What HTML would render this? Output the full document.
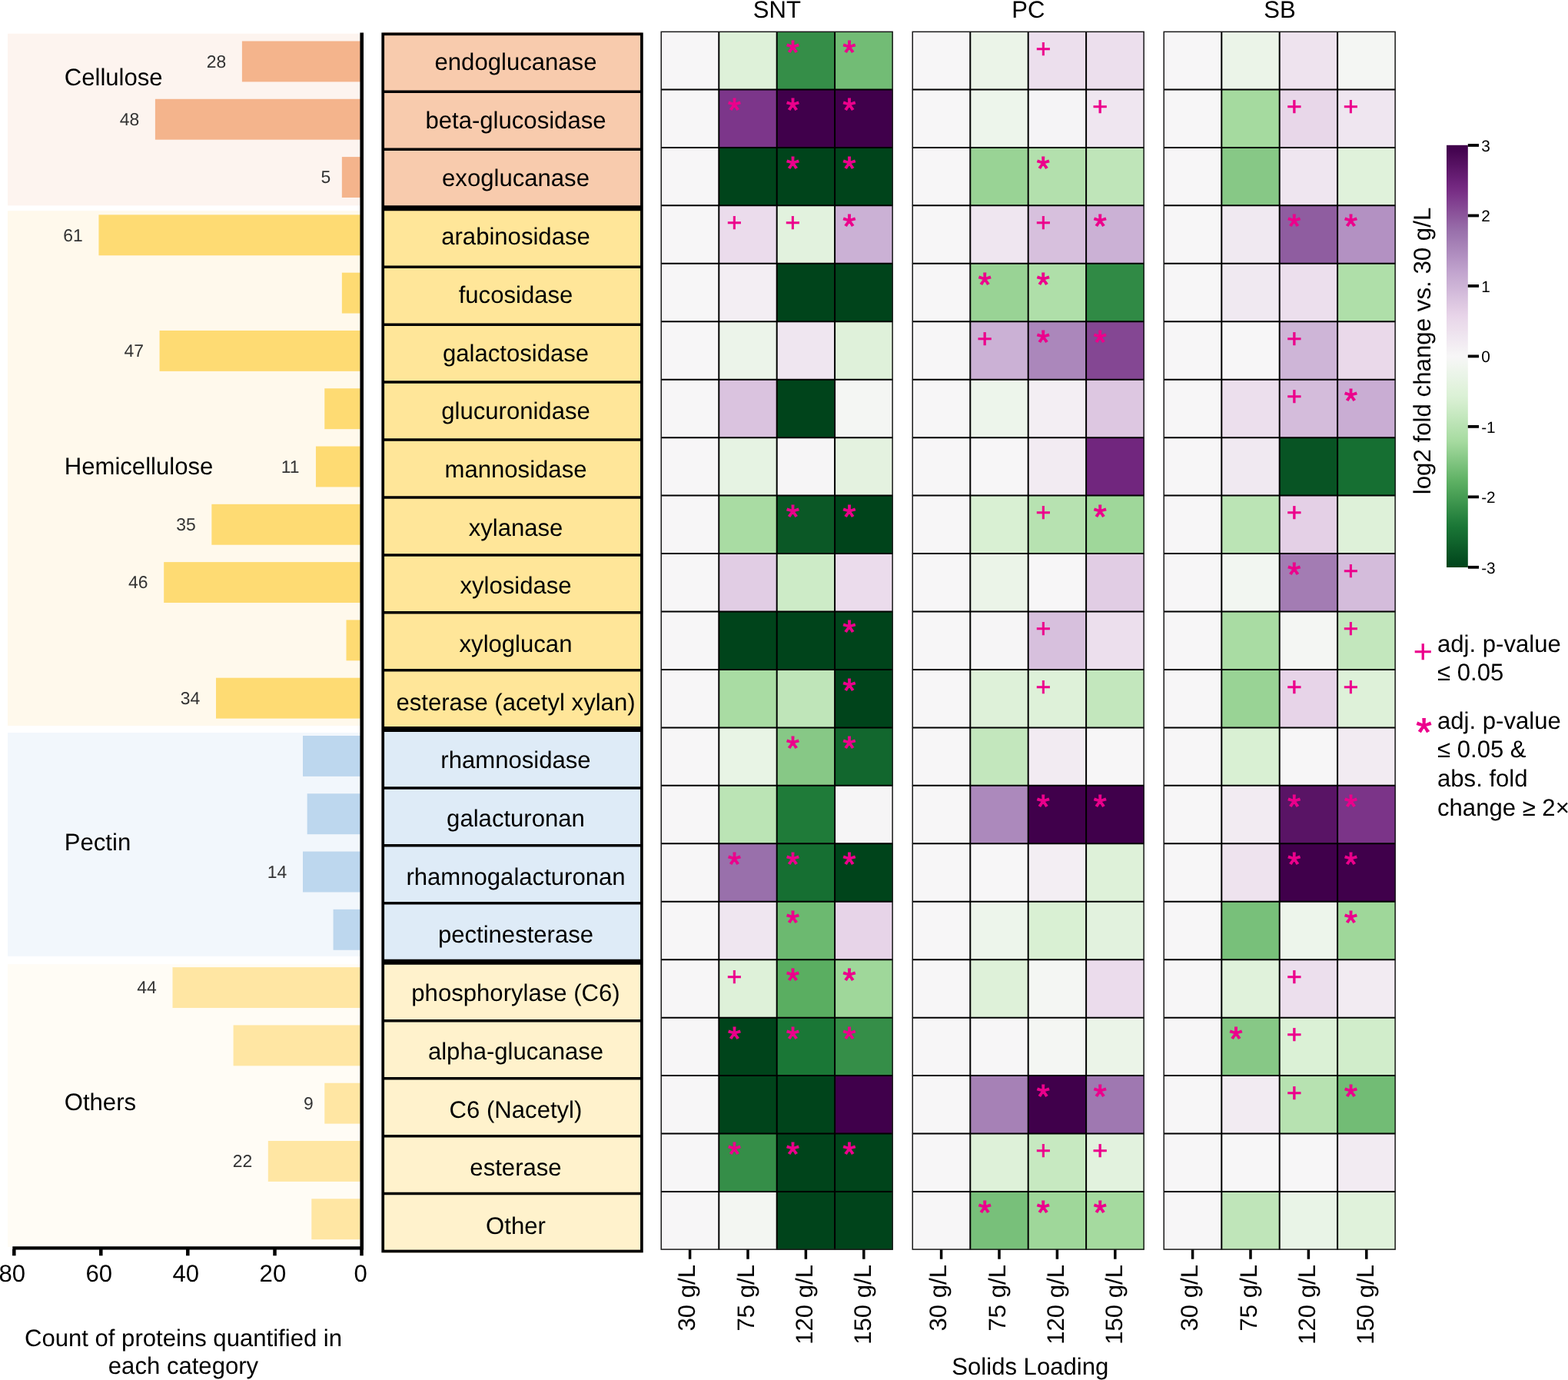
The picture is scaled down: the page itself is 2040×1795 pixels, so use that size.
<!DOCTYPE html>
<html lang="en"><head><meta charset="utf-8"><title>Figure</title>
<style>
html,body{margin:0;padding:0;background:#fff;}
body{width:2040px;height:1795px;overflow:hidden;}
svg{display:block;font-family:"Liberation Sans", Arial, Helvetica, sans-serif;text-rendering:geometricPrecision;}

</style></head><body>
<svg width="2040" height="1795" viewBox="0 0 2040 1795">
<rect width="2040" height="1795" fill="#fff"/>
<rect x="10" y="43.75" width="459.5" height="223.65" fill="#fdf4ef"/>
<rect x="10" y="274.25" width="459.5" height="669.65" fill="#fff9ec"/>
<rect x="10" y="953.0" width="459.5" height="290.80" fill="#f2f7fc"/>
<rect x="10" y="1254.25" width="459.5" height="367.75" fill="#fffcf5"/>
<rect x="314.90" y="53.50" width="154.60" height="52.9" fill="#f4b48c"/>
<text x="281.50" y="87.65" font-size="22.9" fill="#333" text-anchor="middle">28</text>
<rect x="201.90" y="128.79" width="267.60" height="52.9" fill="#f4b48c"/>
<text x="168.50" y="162.94" font-size="22.9" fill="#333" text-anchor="middle">48</text>
<rect x="444.85" y="204.08" width="24.65" height="52.9" fill="#f4b48c"/>
<text x="423.95" y="238.23" font-size="22.9" fill="#333" text-anchor="middle">5</text>
<rect x="128.45" y="279.37" width="341.05" height="52.9" fill="#fedb73"/>
<text x="95.05" y="313.52" font-size="22.9" fill="#333" text-anchor="middle">61</text>
<rect x="444.85" y="354.66" width="24.65" height="52.9" fill="#fedb73"/>
<rect x="207.55" y="429.95" width="261.95" height="52.9" fill="#fedb73"/>
<text x="174.15" y="464.10" font-size="22.9" fill="#333" text-anchor="middle">47</text>
<rect x="422.25" y="505.24" width="47.25" height="52.9" fill="#fedb73"/>
<rect x="410.95" y="580.53" width="58.55" height="52.9" fill="#fedb73"/>
<text x="377.55" y="614.68" font-size="22.9" fill="#333" text-anchor="middle">11</text>
<rect x="275.35" y="655.82" width="194.15" height="52.9" fill="#fedb73"/>
<text x="241.95" y="689.97" font-size="22.9" fill="#333" text-anchor="middle">35</text>
<rect x="213.20" y="731.11" width="256.30" height="52.9" fill="#fedb73"/>
<text x="179.80" y="765.26" font-size="22.9" fill="#333" text-anchor="middle">46</text>
<rect x="450.50" y="806.40" width="19.00" height="52.9" fill="#fedb73"/>
<rect x="281.00" y="881.69" width="188.50" height="52.9" fill="#fedb73"/>
<text x="247.60" y="915.84" font-size="22.9" fill="#333" text-anchor="middle">34</text>
<rect x="394.00" y="956.98" width="75.50" height="52.9" fill="#bdd7ee"/>
<rect x="399.65" y="1032.27" width="69.85" height="52.9" fill="#bdd7ee"/>
<rect x="394.00" y="1107.56" width="75.50" height="52.9" fill="#bdd7ee"/>
<text x="360.60" y="1141.71" font-size="22.9" fill="#333" text-anchor="middle">14</text>
<rect x="433.55" y="1182.85" width="35.95" height="52.9" fill="#bdd7ee"/>
<rect x="224.50" y="1258.14" width="245.00" height="52.9" fill="#ffe6a3"/>
<text x="191.10" y="1292.29" font-size="22.9" fill="#333" text-anchor="middle">44</text>
<rect x="303.60" y="1333.43" width="165.90" height="52.9" fill="#ffe6a3"/>
<rect x="422.25" y="1408.72" width="47.25" height="52.9" fill="#ffe6a3"/>
<text x="401.35" y="1442.87" font-size="22.9" fill="#333" text-anchor="middle">9</text>
<rect x="348.80" y="1484.01" width="120.70" height="52.9" fill="#ffe6a3"/>
<text x="315.40" y="1518.16" font-size="22.9" fill="#333" text-anchor="middle">22</text>
<rect x="405.30" y="1559.30" width="64.20" height="52.9" fill="#ffe6a3"/>
<text x="83.75" y="111.4" font-size="31.1">Cellulose</text>
<text x="83.75" y="617.0" font-size="31.1">Hemicellulose</text>
<text x="83.75" y="1105.8" font-size="31.1">Pectin</text>
<text x="83.75" y="1444.0" font-size="31.1">Others</text>
<rect x="468.4" y="42.5" width="4.6" height="1583" fill="#000"/>
<rect x="16.3" y="1621.25" width="456.7" height="4.3" fill="#000"/>
<rect x="16.05" y="1625" width="4.5" height="8.3" fill="#000"/>
<text x="15.70" y="1667.0" font-size="31.1" text-anchor="middle">80</text>
<rect x="129.05" y="1625" width="4.5" height="8.3" fill="#000"/>
<text x="128.70" y="1667.0" font-size="31.1" text-anchor="middle">60</text>
<rect x="242.05" y="1625" width="4.5" height="8.3" fill="#000"/>
<text x="241.70" y="1667.0" font-size="31.1" text-anchor="middle">40</text>
<rect x="355.25" y="1625" width="4.5" height="8.3" fill="#000"/>
<text x="354.90" y="1667.0" font-size="31.1" text-anchor="middle">20</text>
<rect x="468.25" y="1625" width="4.5" height="8.3" fill="#000"/>
<text x="469.10" y="1667.0" font-size="31.1" text-anchor="middle">0</text>
<text x="238.5" y="1750.8" font-size="31.1" text-anchor="middle">Count of proteins quantified in</text>
<text x="238.5" y="1787.0" font-size="31.1" text-anchor="middle">each category</text>
<rect x="498.2" y="42.30" width="336.70" height="228.90" fill="#f8cbad"/>
<rect x="498.2" y="270.30" width="336.70" height="678.45" fill="#ffe699"/>
<rect x="498.2" y="948.10" width="336.70" height="303.40" fill="#deebf7"/>
<rect x="498.2" y="1250.90" width="336.70" height="378.60" fill="#fff2cc"/>
<path d="M498.2 119.27 H834.9 M498.2 194.23 H834.9 M498.2 347.24 H834.9 M498.2 422.18 H834.9 M498.2 497.12 H834.9 M498.2 572.06 H834.9 M498.2 646.99 H834.9 M498.2 721.93 H834.9 M498.2 796.87 H834.9 M498.2 871.81 H834.9 M498.2 1024.95 H834.9 M498.2 1099.80 H834.9 M498.2 1174.65 H834.9 M498.2 1327.82 H834.9 M498.2 1402.74 H834.9 M498.2 1477.66 H834.9 M498.2 1552.58 H834.9" stroke="#000" stroke-width="3.5" fill="none"/>
<path d="M498.2 270.75 H834.9 M498.2 948.42 H834.9 M498.2 1251.20 H834.9" stroke="#000" stroke-width="7.0" fill="none"/>
<rect x="498.2" y="44.3" width="336.70" height="1583.20" fill="none" stroke="#000" stroke-width="3.7"/>
<text x="671" y="91.10" font-size="31.1" text-anchor="middle">endoglucanase</text>
<text x="671" y="166.79" font-size="31.1" text-anchor="middle">beta-glucosidase</text>
<text x="671" y="242.48" font-size="31.1" text-anchor="middle">exoglucanase</text>
<text x="671" y="318.17" font-size="31.1" text-anchor="middle">arabinosidase</text>
<text x="671" y="393.86" font-size="31.1" text-anchor="middle">fucosidase</text>
<text x="671" y="469.55" font-size="31.1" text-anchor="middle">galactosidase</text>
<text x="671" y="545.24" font-size="31.1" text-anchor="middle">glucuronidase</text>
<text x="671" y="620.93" font-size="31.1" text-anchor="middle">mannosidase</text>
<text x="671" y="696.62" font-size="31.1" text-anchor="middle">xylanase</text>
<text x="671" y="772.31" font-size="31.1" text-anchor="middle">xylosidase</text>
<text x="671" y="848.00" font-size="31.1" text-anchor="middle">xyloglucan</text>
<text x="671" y="923.69" font-size="31.1" text-anchor="middle">esterase (acetyl xylan)</text>
<text x="671" y="999.38" font-size="31.1" text-anchor="middle">rhamnosidase</text>
<text x="671" y="1075.07" font-size="31.1" text-anchor="middle">galacturonan</text>
<text x="671" y="1150.76" font-size="31.1" text-anchor="middle">rhamnogalacturonan</text>
<text x="671" y="1226.45" font-size="31.1" text-anchor="middle">pectinesterase</text>
<text x="671" y="1302.14" font-size="31.1" text-anchor="middle">phosphorylase (C6)</text>
<text x="671" y="1377.83" font-size="31.1" text-anchor="middle">alpha-glucanase</text>
<text x="671" y="1453.52" font-size="31.1" text-anchor="middle">C6 (Nacetyl)</text>
<text x="671" y="1529.21" font-size="31.1" text-anchor="middle">esterase</text>
<text x="671" y="1604.90" font-size="31.1" text-anchor="middle">Other</text>
<rect x="859.90" y="41.00" width="75.70" height="75.75" fill="#f7f6f7"/>
<rect x="935.30" y="41.00" width="75.70" height="75.75" fill="#def1d9"/>
<rect x="1010.70" y="41.00" width="75.70" height="75.75" fill="#358e48"/>
<rect x="1086.10" y="41.00" width="75.70" height="75.75" fill="#72bc75"/>
<rect x="859.90" y="116.45" width="75.70" height="75.75" fill="#f7f6f7"/>
<rect x="935.30" y="116.45" width="75.70" height="75.75" fill="#7c368a"/>
<rect x="1010.70" y="116.45" width="75.70" height="75.75" fill="#40004b"/>
<rect x="1086.10" y="116.45" width="75.70" height="75.75" fill="#40004b"/>
<rect x="859.90" y="191.90" width="75.70" height="75.75" fill="#f7f6f7"/>
<rect x="935.30" y="191.90" width="75.70" height="75.75" fill="#00441b"/>
<rect x="1010.70" y="191.90" width="75.70" height="75.75" fill="#00441b"/>
<rect x="1086.10" y="191.90" width="75.70" height="75.75" fill="#00441b"/>
<rect x="859.90" y="267.35" width="75.70" height="75.75" fill="#f7f6f7"/>
<rect x="935.30" y="267.35" width="75.70" height="75.75" fill="#ebdcec"/>
<rect x="1010.70" y="267.35" width="75.70" height="75.75" fill="#e2f2de"/>
<rect x="1086.10" y="267.35" width="75.70" height="75.75" fill="#cbb1d5"/>
<rect x="859.90" y="342.80" width="75.70" height="75.75" fill="#f7f6f7"/>
<rect x="935.30" y="342.80" width="75.70" height="75.75" fill="#f3eef3"/>
<rect x="1010.70" y="342.80" width="75.70" height="75.75" fill="#00441b"/>
<rect x="1086.10" y="342.80" width="75.70" height="75.75" fill="#00441b"/>
<rect x="859.90" y="418.25" width="75.70" height="75.75" fill="#f7f6f7"/>
<rect x="935.30" y="418.25" width="75.70" height="75.75" fill="#ecf4ea"/>
<rect x="1010.70" y="418.25" width="75.70" height="75.75" fill="#efe6f0"/>
<rect x="1086.10" y="418.25" width="75.70" height="75.75" fill="#dff1da"/>
<rect x="859.90" y="493.70" width="75.70" height="75.75" fill="#f7f6f7"/>
<rect x="935.30" y="493.70" width="75.70" height="75.75" fill="#dac3df"/>
<rect x="1010.70" y="493.70" width="75.70" height="75.75" fill="#00441b"/>
<rect x="1086.10" y="493.70" width="75.70" height="75.75" fill="#f4f6f3"/>
<rect x="859.90" y="569.15" width="75.70" height="75.75" fill="#f7f6f7"/>
<rect x="935.30" y="569.15" width="75.70" height="75.75" fill="#e6f3e3"/>
<rect x="1010.70" y="569.15" width="75.70" height="75.75" fill="#f6f5f6"/>
<rect x="1086.10" y="569.15" width="75.70" height="75.75" fill="#e4f2e0"/>
<rect x="859.90" y="644.60" width="75.70" height="75.75" fill="#f7f6f7"/>
<rect x="935.30" y="644.60" width="75.70" height="75.75" fill="#a9dca3"/>
<rect x="1010.70" y="644.60" width="75.70" height="75.75" fill="#0b5826"/>
<rect x="1086.10" y="644.60" width="75.70" height="75.75" fill="#00441b"/>
<rect x="859.90" y="720.05" width="75.70" height="75.75" fill="#f7f6f7"/>
<rect x="935.30" y="720.05" width="75.70" height="75.75" fill="#e1cde4"/>
<rect x="1010.70" y="720.05" width="75.70" height="75.75" fill="#cdebc7"/>
<rect x="1086.10" y="720.05" width="75.70" height="75.75" fill="#ebdcec"/>
<rect x="859.90" y="795.50" width="75.70" height="75.75" fill="#f7f6f7"/>
<rect x="935.30" y="795.50" width="75.70" height="75.75" fill="#00441b"/>
<rect x="1010.70" y="795.50" width="75.70" height="75.75" fill="#00441b"/>
<rect x="1086.10" y="795.50" width="75.70" height="75.75" fill="#00441b"/>
<rect x="859.90" y="870.95" width="75.70" height="75.75" fill="#f7f6f7"/>
<rect x="935.30" y="870.95" width="75.70" height="75.75" fill="#a9dca3"/>
<rect x="1010.70" y="870.95" width="75.70" height="75.75" fill="#bfe5b9"/>
<rect x="1086.10" y="870.95" width="75.70" height="75.75" fill="#00441b"/>
<rect x="859.90" y="946.40" width="75.70" height="75.75" fill="#f7f6f7"/>
<rect x="935.30" y="946.40" width="75.70" height="75.75" fill="#e8f4e5"/>
<rect x="1010.70" y="946.40" width="75.70" height="75.75" fill="#87c886"/>
<rect x="1086.10" y="946.40" width="75.70" height="75.75" fill="#12672e"/>
<rect x="859.90" y="1021.85" width="75.70" height="75.75" fill="#f7f6f7"/>
<rect x="935.30" y="1021.85" width="75.70" height="75.75" fill="#bbe4b5"/>
<rect x="1010.70" y="1021.85" width="75.70" height="75.75" fill="#1f7b39"/>
<rect x="1086.10" y="1021.85" width="75.70" height="75.75" fill="#f6f5f6"/>
<rect x="859.90" y="1097.30" width="75.70" height="75.75" fill="#f7f6f7"/>
<rect x="935.30" y="1097.30" width="75.70" height="75.75" fill="#9970ab"/>
<rect x="1010.70" y="1097.30" width="75.70" height="75.75" fill="#166f32"/>
<rect x="1086.10" y="1097.30" width="75.70" height="75.75" fill="#00441b"/>
<rect x="859.90" y="1172.75" width="75.70" height="75.75" fill="#f7f6f7"/>
<rect x="935.30" y="1172.75" width="75.70" height="75.75" fill="#efe6f0"/>
<rect x="1010.70" y="1172.75" width="75.70" height="75.75" fill="#6cb970"/>
<rect x="1086.10" y="1172.75" width="75.70" height="75.75" fill="#e7d4e8"/>
<rect x="859.90" y="1248.20" width="75.70" height="75.75" fill="#f7f6f7"/>
<rect x="935.30" y="1248.20" width="75.70" height="75.75" fill="#def1d9"/>
<rect x="1010.70" y="1248.20" width="75.70" height="75.75" fill="#5aae61"/>
<rect x="1086.10" y="1248.20" width="75.70" height="75.75" fill="#9fd79a"/>
<rect x="859.90" y="1323.65" width="75.70" height="75.75" fill="#f7f6f7"/>
<rect x="935.30" y="1323.65" width="75.70" height="75.75" fill="#00441b"/>
<rect x="1010.70" y="1323.65" width="75.70" height="75.75" fill="#1a7736"/>
<rect x="1086.10" y="1323.65" width="75.70" height="75.75" fill="#358e48"/>
<rect x="859.90" y="1399.10" width="75.70" height="75.75" fill="#f7f6f7"/>
<rect x="935.30" y="1399.10" width="75.70" height="75.75" fill="#00441b"/>
<rect x="1010.70" y="1399.10" width="75.70" height="75.75" fill="#00441b"/>
<rect x="1086.10" y="1399.10" width="75.70" height="75.75" fill="#40004b"/>
<rect x="859.90" y="1474.55" width="75.70" height="75.75" fill="#f7f6f7"/>
<rect x="935.30" y="1474.55" width="75.70" height="75.75" fill="#358e48"/>
<rect x="1010.70" y="1474.55" width="75.70" height="75.75" fill="#00441b"/>
<rect x="1086.10" y="1474.55" width="75.70" height="75.75" fill="#00441b"/>
<rect x="859.90" y="1550.00" width="75.70" height="75.75" fill="#f7f6f7"/>
<rect x="935.30" y="1550.00" width="75.70" height="75.75" fill="#f3f6f2"/>
<rect x="1010.70" y="1550.00" width="75.70" height="75.75" fill="#00441b"/>
<rect x="1086.10" y="1550.00" width="75.70" height="75.75" fill="#00441b"/>
<path d="M935.30 41.0 V1625.45 M1010.70 41.0 V1625.45 M1086.10 41.0 V1625.45 M859.9 116.45 H1161.50 M859.9 191.90 H1161.50 M859.9 267.35 H1161.50 M859.9 342.80 H1161.50 M859.9 418.25 H1161.50 M859.9 493.70 H1161.50 M859.9 569.15 H1161.50 M859.9 644.60 H1161.50 M859.9 720.05 H1161.50 M859.9 795.50 H1161.50 M859.9 870.95 H1161.50 M859.9 946.40 H1161.50 M859.9 1021.85 H1161.50 M859.9 1097.30 H1161.50 M859.9 1172.75 H1161.50 M859.9 1248.20 H1161.50 M859.9 1323.65 H1161.50 M859.9 1399.10 H1161.50 M859.9 1474.55 H1161.50 M859.9 1550.00 H1161.50" stroke="#000" stroke-width="2.0" fill="none"/>
<rect x="860.25" y="41.35" width="300.90" height="1583.75" fill="none" stroke="#1a1a1a" stroke-width="1.5"/>
<rect x="895.85" y="1625.45" width="3.5" height="12.3" fill="#000"/>
<text transform="translate(904.40,1645.0) rotate(-90)" font-size="31.1" text-anchor="end">30 g/L</text>
<rect x="971.25" y="1625.45" width="3.5" height="12.3" fill="#000"/>
<text transform="translate(980.70,1645.0) rotate(-90)" font-size="31.1" text-anchor="end">75 g/L</text>
<rect x="1046.65" y="1625.45" width="3.5" height="12.3" fill="#000"/>
<text transform="translate(1057.00,1645.0) rotate(-90)" font-size="31.1" text-anchor="end">120 g/L</text>
<rect x="1122.05" y="1625.45" width="3.5" height="12.3" fill="#000"/>
<text transform="translate(1133.20,1645.0) rotate(-90)" font-size="31.1" text-anchor="end">150 g/L</text>
<text x="1010.9" y="22.5" font-size="31.1" text-anchor="middle">SNT</text>
<text x="1031.40" y="82.90" font-size="43.5" font-weight="normal" fill="#ec008c" stroke="#ec008c" stroke-width="1.1" stroke-linejoin="miter" text-anchor="middle">*</text>
<text x="1105.00" y="82.90" font-size="43.5" font-weight="normal" fill="#ec008c" stroke="#ec008c" stroke-width="1.1" stroke-linejoin="miter" text-anchor="middle">*</text>
<text x="955.50" y="158.35" font-size="43.5" font-weight="normal" fill="#ec008c" stroke="#ec008c" stroke-width="1.1" stroke-linejoin="miter" text-anchor="middle">*</text>
<text x="1031.40" y="158.35" font-size="43.5" font-weight="normal" fill="#ec008c" stroke="#ec008c" stroke-width="1.1" stroke-linejoin="miter" text-anchor="middle">*</text>
<text x="1105.00" y="158.35" font-size="43.5" font-weight="normal" fill="#ec008c" stroke="#ec008c" stroke-width="1.1" stroke-linejoin="miter" text-anchor="middle">*</text>
<text x="1031.40" y="233.80" font-size="43.5" font-weight="normal" fill="#ec008c" stroke="#ec008c" stroke-width="1.1" stroke-linejoin="miter" text-anchor="middle">*</text>
<text x="1105.00" y="233.80" font-size="43.5" font-weight="normal" fill="#ec008c" stroke="#ec008c" stroke-width="1.1" stroke-linejoin="miter" text-anchor="middle">*</text>
<text x="955.50" y="301.04" font-size="33.9" fill="#ec008c" stroke="#ec008c" stroke-width="0.69" text-anchor="middle">+</text>
<text x="1031.40" y="301.04" font-size="33.9" fill="#ec008c" stroke="#ec008c" stroke-width="0.69" text-anchor="middle">+</text>
<text x="1105.00" y="309.25" font-size="43.5" font-weight="normal" fill="#ec008c" stroke="#ec008c" stroke-width="1.1" stroke-linejoin="miter" text-anchor="middle">*</text>
<text x="1031.40" y="686.50" font-size="43.5" font-weight="normal" fill="#ec008c" stroke="#ec008c" stroke-width="1.1" stroke-linejoin="miter" text-anchor="middle">*</text>
<text x="1105.00" y="686.50" font-size="43.5" font-weight="normal" fill="#ec008c" stroke="#ec008c" stroke-width="1.1" stroke-linejoin="miter" text-anchor="middle">*</text>
<text x="1105.00" y="837.40" font-size="43.5" font-weight="normal" fill="#ec008c" stroke="#ec008c" stroke-width="1.1" stroke-linejoin="miter" text-anchor="middle">*</text>
<text x="1105.00" y="912.85" font-size="43.5" font-weight="normal" fill="#ec008c" stroke="#ec008c" stroke-width="1.1" stroke-linejoin="miter" text-anchor="middle">*</text>
<text x="1031.40" y="988.30" font-size="43.5" font-weight="normal" fill="#ec008c" stroke="#ec008c" stroke-width="1.1" stroke-linejoin="miter" text-anchor="middle">*</text>
<text x="1105.00" y="988.30" font-size="43.5" font-weight="normal" fill="#ec008c" stroke="#ec008c" stroke-width="1.1" stroke-linejoin="miter" text-anchor="middle">*</text>
<text x="955.50" y="1139.20" font-size="43.5" font-weight="normal" fill="#ec008c" stroke="#ec008c" stroke-width="1.1" stroke-linejoin="miter" text-anchor="middle">*</text>
<text x="1031.40" y="1139.20" font-size="43.5" font-weight="normal" fill="#ec008c" stroke="#ec008c" stroke-width="1.1" stroke-linejoin="miter" text-anchor="middle">*</text>
<text x="1105.00" y="1139.20" font-size="43.5" font-weight="normal" fill="#ec008c" stroke="#ec008c" stroke-width="1.1" stroke-linejoin="miter" text-anchor="middle">*</text>
<text x="1031.40" y="1214.65" font-size="43.5" font-weight="normal" fill="#ec008c" stroke="#ec008c" stroke-width="1.1" stroke-linejoin="miter" text-anchor="middle">*</text>
<text x="955.50" y="1281.89" font-size="33.9" fill="#ec008c" stroke="#ec008c" stroke-width="0.69" text-anchor="middle">+</text>
<text x="1031.40" y="1290.10" font-size="43.5" font-weight="normal" fill="#ec008c" stroke="#ec008c" stroke-width="1.1" stroke-linejoin="miter" text-anchor="middle">*</text>
<text x="1105.00" y="1290.10" font-size="43.5" font-weight="normal" fill="#ec008c" stroke="#ec008c" stroke-width="1.1" stroke-linejoin="miter" text-anchor="middle">*</text>
<text x="955.50" y="1365.55" font-size="43.5" font-weight="normal" fill="#ec008c" stroke="#ec008c" stroke-width="1.1" stroke-linejoin="miter" text-anchor="middle">*</text>
<text x="1031.40" y="1365.55" font-size="43.5" font-weight="normal" fill="#ec008c" stroke="#ec008c" stroke-width="1.1" stroke-linejoin="miter" text-anchor="middle">*</text>
<text x="1105.00" y="1365.55" font-size="43.5" font-weight="normal" fill="#ec008c" stroke="#ec008c" stroke-width="1.1" stroke-linejoin="miter" text-anchor="middle">*</text>
<text x="955.50" y="1516.45" font-size="43.5" font-weight="normal" fill="#ec008c" stroke="#ec008c" stroke-width="1.1" stroke-linejoin="miter" text-anchor="middle">*</text>
<text x="1031.40" y="1516.45" font-size="43.5" font-weight="normal" fill="#ec008c" stroke="#ec008c" stroke-width="1.1" stroke-linejoin="miter" text-anchor="middle">*</text>
<text x="1105.00" y="1516.45" font-size="43.5" font-weight="normal" fill="#ec008c" stroke="#ec008c" stroke-width="1.1" stroke-linejoin="miter" text-anchor="middle">*</text>
<rect x="1186.90" y="41.00" width="75.70" height="75.75" fill="#f7f6f7"/>
<rect x="1262.30" y="41.00" width="75.70" height="75.75" fill="#ebf4e8"/>
<rect x="1337.70" y="41.00" width="75.70" height="75.75" fill="#ecdfed"/>
<rect x="1413.10" y="41.00" width="75.70" height="75.75" fill="#ecdfed"/>
<rect x="1186.90" y="116.45" width="75.70" height="75.75" fill="#f7f6f7"/>
<rect x="1262.30" y="116.45" width="75.70" height="75.75" fill="#edf5eb"/>
<rect x="1337.70" y="116.45" width="75.70" height="75.75" fill="#f5f4f6"/>
<rect x="1413.10" y="116.45" width="75.70" height="75.75" fill="#efe6f0"/>
<rect x="1186.90" y="191.90" width="75.70" height="75.75" fill="#f7f6f7"/>
<rect x="1262.30" y="191.90" width="75.70" height="75.75" fill="#99d395"/>
<rect x="1337.70" y="191.90" width="75.70" height="75.75" fill="#b3e0ad"/>
<rect x="1413.10" y="191.90" width="75.70" height="75.75" fill="#bfe5b9"/>
<rect x="1186.90" y="267.35" width="75.70" height="75.75" fill="#f7f6f7"/>
<rect x="1262.30" y="267.35" width="75.70" height="75.75" fill="#efe6f0"/>
<rect x="1337.70" y="267.35" width="75.70" height="75.75" fill="#d7c0dd"/>
<rect x="1413.10" y="267.35" width="75.70" height="75.75" fill="#cbb1d5"/>
<rect x="1186.90" y="342.80" width="75.70" height="75.75" fill="#f7f6f7"/>
<rect x="1262.30" y="342.80" width="75.70" height="75.75" fill="#99d395"/>
<rect x="1337.70" y="342.80" width="75.70" height="75.75" fill="#afdfa9"/>
<rect x="1413.10" y="342.80" width="75.70" height="75.75" fill="#308a45"/>
<rect x="1186.90" y="418.25" width="75.70" height="75.75" fill="#f7f6f7"/>
<rect x="1262.30" y="418.25" width="75.70" height="75.75" fill="#cbb1d5"/>
<rect x="1337.70" y="418.25" width="75.70" height="75.75" fill="#ab87bb"/>
<rect x="1413.10" y="418.25" width="75.70" height="75.75" fill="#844793"/>
<rect x="1186.90" y="493.70" width="75.70" height="75.75" fill="#f7f6f7"/>
<rect x="1262.30" y="493.70" width="75.70" height="75.75" fill="#edf5eb"/>
<rect x="1337.70" y="493.70" width="75.70" height="75.75" fill="#f3eef3"/>
<rect x="1413.10" y="493.70" width="75.70" height="75.75" fill="#ddc7e1"/>
<rect x="1186.90" y="569.15" width="75.70" height="75.75" fill="#f7f6f7"/>
<rect x="1262.30" y="569.15" width="75.70" height="75.75" fill="#f7f6f7"/>
<rect x="1337.70" y="569.15" width="75.70" height="75.75" fill="#f2ebf2"/>
<rect x="1413.10" y="569.15" width="75.70" height="75.75" fill="#71267e"/>
<rect x="1186.90" y="644.60" width="75.70" height="75.75" fill="#f7f6f7"/>
<rect x="1262.30" y="644.60" width="75.70" height="75.75" fill="#d9f0d3"/>
<rect x="1337.70" y="644.60" width="75.70" height="75.75" fill="#b7e2b1"/>
<rect x="1413.10" y="644.60" width="75.70" height="75.75" fill="#9fd79a"/>
<rect x="1186.90" y="720.05" width="75.70" height="75.75" fill="#f7f6f7"/>
<rect x="1262.30" y="720.05" width="75.70" height="75.75" fill="#ebf4e8"/>
<rect x="1337.70" y="720.05" width="75.70" height="75.75" fill="#f7f6f7"/>
<rect x="1413.10" y="720.05" width="75.70" height="75.75" fill="#e1cde4"/>
<rect x="1186.90" y="795.50" width="75.70" height="75.75" fill="#f7f6f7"/>
<rect x="1262.30" y="795.50" width="75.70" height="75.75" fill="#f6f5f6"/>
<rect x="1337.70" y="795.50" width="75.70" height="75.75" fill="#d7c0dd"/>
<rect x="1413.10" y="795.50" width="75.70" height="75.75" fill="#ecdfed"/>
<rect x="1186.90" y="870.95" width="75.70" height="75.75" fill="#f7f6f7"/>
<rect x="1262.30" y="870.95" width="75.70" height="75.75" fill="#def1d9"/>
<rect x="1337.70" y="870.95" width="75.70" height="75.75" fill="#def1d9"/>
<rect x="1413.10" y="870.95" width="75.70" height="75.75" fill="#c3e7bd"/>
<rect x="1186.90" y="946.40" width="75.70" height="75.75" fill="#f7f6f7"/>
<rect x="1262.30" y="946.40" width="75.70" height="75.75" fill="#c3e7bd"/>
<rect x="1337.70" y="946.40" width="75.70" height="75.75" fill="#f2ebf2"/>
<rect x="1413.10" y="946.40" width="75.70" height="75.75" fill="#f7f6f7"/>
<rect x="1186.90" y="1021.85" width="75.70" height="75.75" fill="#f7f6f7"/>
<rect x="1262.30" y="1021.85" width="75.70" height="75.75" fill="#ac89bc"/>
<rect x="1337.70" y="1021.85" width="75.70" height="75.75" fill="#40004b"/>
<rect x="1413.10" y="1021.85" width="75.70" height="75.75" fill="#40004b"/>
<rect x="1186.90" y="1097.30" width="75.70" height="75.75" fill="#f7f6f7"/>
<rect x="1262.30" y="1097.30" width="75.70" height="75.75" fill="#f7f6f7"/>
<rect x="1337.70" y="1097.30" width="75.70" height="75.75" fill="#f3eef3"/>
<rect x="1413.10" y="1097.30" width="75.70" height="75.75" fill="#def1d9"/>
<rect x="1186.90" y="1172.75" width="75.70" height="75.75" fill="#f7f6f7"/>
<rect x="1262.30" y="1172.75" width="75.70" height="75.75" fill="#edf5eb"/>
<rect x="1337.70" y="1172.75" width="75.70" height="75.75" fill="#d9f0d3"/>
<rect x="1413.10" y="1172.75" width="75.70" height="75.75" fill="#e2f2de"/>
<rect x="1186.90" y="1248.20" width="75.70" height="75.75" fill="#f7f6f7"/>
<rect x="1262.30" y="1248.20" width="75.70" height="75.75" fill="#def1d9"/>
<rect x="1337.70" y="1248.20" width="75.70" height="75.75" fill="#f4f6f3"/>
<rect x="1413.10" y="1248.20" width="75.70" height="75.75" fill="#ebdcec"/>
<rect x="1186.90" y="1323.65" width="75.70" height="75.75" fill="#f7f6f7"/>
<rect x="1262.30" y="1323.65" width="75.70" height="75.75" fill="#f7f6f7"/>
<rect x="1337.70" y="1323.65" width="75.70" height="75.75" fill="#f4f6f3"/>
<rect x="1413.10" y="1323.65" width="75.70" height="75.75" fill="#ebf4e8"/>
<rect x="1186.90" y="1399.10" width="75.70" height="75.75" fill="#f7f6f7"/>
<rect x="1262.30" y="1399.10" width="75.70" height="75.75" fill="#a681b6"/>
<rect x="1337.70" y="1399.10" width="75.70" height="75.75" fill="#40004b"/>
<rect x="1413.10" y="1399.10" width="75.70" height="75.75" fill="#9f78b1"/>
<rect x="1186.90" y="1474.55" width="75.70" height="75.75" fill="#f7f6f7"/>
<rect x="1262.30" y="1474.55" width="75.70" height="75.75" fill="#def1d9"/>
<rect x="1337.70" y="1474.55" width="75.70" height="75.75" fill="#c7e9c1"/>
<rect x="1413.10" y="1474.55" width="75.70" height="75.75" fill="#e2f2de"/>
<rect x="1186.90" y="1550.00" width="75.70" height="75.75" fill="#f7f6f7"/>
<rect x="1262.30" y="1550.00" width="75.70" height="75.75" fill="#78c07a"/>
<rect x="1337.70" y="1550.00" width="75.70" height="75.75" fill="#9fd79a"/>
<rect x="1413.10" y="1550.00" width="75.70" height="75.75" fill="#a5da9f"/>
<path d="M1262.30 41.0 V1625.45 M1337.70 41.0 V1625.45 M1413.10 41.0 V1625.45 M1186.9 116.45 H1488.50 M1186.9 191.90 H1488.50 M1186.9 267.35 H1488.50 M1186.9 342.80 H1488.50 M1186.9 418.25 H1488.50 M1186.9 493.70 H1488.50 M1186.9 569.15 H1488.50 M1186.9 644.60 H1488.50 M1186.9 720.05 H1488.50 M1186.9 795.50 H1488.50 M1186.9 870.95 H1488.50 M1186.9 946.40 H1488.50 M1186.9 1021.85 H1488.50 M1186.9 1097.30 H1488.50 M1186.9 1172.75 H1488.50 M1186.9 1248.20 H1488.50 M1186.9 1323.65 H1488.50 M1186.9 1399.10 H1488.50 M1186.9 1474.55 H1488.50 M1186.9 1550.00 H1488.50" stroke="#000" stroke-width="2.0" fill="none"/>
<rect x="1187.25" y="41.35" width="300.90" height="1583.75" fill="none" stroke="#1a1a1a" stroke-width="1.5"/>
<rect x="1222.85" y="1625.45" width="3.5" height="12.3" fill="#000"/>
<text transform="translate(1231.40,1645.0) rotate(-90)" font-size="31.1" text-anchor="end">30 g/L</text>
<rect x="1298.25" y="1625.45" width="3.5" height="12.3" fill="#000"/>
<text transform="translate(1307.70,1645.0) rotate(-90)" font-size="31.1" text-anchor="end">75 g/L</text>
<rect x="1373.65" y="1625.45" width="3.5" height="12.3" fill="#000"/>
<text transform="translate(1384.00,1645.0) rotate(-90)" font-size="31.1" text-anchor="end">120 g/L</text>
<rect x="1449.05" y="1625.45" width="3.5" height="12.3" fill="#000"/>
<text transform="translate(1460.20,1645.0) rotate(-90)" font-size="31.1" text-anchor="end">150 g/L</text>
<text x="1337.9" y="22.5" font-size="31.1" text-anchor="middle">PC</text>
<text x="1357.30" y="74.69" font-size="33.9" fill="#ec008c" stroke="#ec008c" stroke-width="0.69" text-anchor="middle">+</text>
<text x="1431.10" y="150.14" font-size="33.9" fill="#ec008c" stroke="#ec008c" stroke-width="0.69" text-anchor="middle">+</text>
<text x="1357.30" y="233.80" font-size="43.5" font-weight="normal" fill="#ec008c" stroke="#ec008c" stroke-width="1.1" stroke-linejoin="miter" text-anchor="middle">*</text>
<text x="1357.30" y="301.04" font-size="33.9" fill="#ec008c" stroke="#ec008c" stroke-width="0.69" text-anchor="middle">+</text>
<text x="1431.10" y="309.25" font-size="43.5" font-weight="normal" fill="#ec008c" stroke="#ec008c" stroke-width="1.1" stroke-linejoin="miter" text-anchor="middle">*</text>
<text x="1281.20" y="384.70" font-size="43.5" font-weight="normal" fill="#ec008c" stroke="#ec008c" stroke-width="1.1" stroke-linejoin="miter" text-anchor="middle">*</text>
<text x="1357.30" y="384.70" font-size="43.5" font-weight="normal" fill="#ec008c" stroke="#ec008c" stroke-width="1.1" stroke-linejoin="miter" text-anchor="middle">*</text>
<text x="1281.20" y="451.94" font-size="33.9" fill="#ec008c" stroke="#ec008c" stroke-width="0.69" text-anchor="middle">+</text>
<text x="1357.30" y="460.15" font-size="43.5" font-weight="normal" fill="#ec008c" stroke="#ec008c" stroke-width="1.1" stroke-linejoin="miter" text-anchor="middle">*</text>
<text x="1431.10" y="460.15" font-size="43.5" font-weight="normal" fill="#ec008c" stroke="#ec008c" stroke-width="1.1" stroke-linejoin="miter" text-anchor="middle">*</text>
<text x="1357.30" y="678.29" font-size="33.9" fill="#ec008c" stroke="#ec008c" stroke-width="0.69" text-anchor="middle">+</text>
<text x="1431.10" y="686.50" font-size="43.5" font-weight="normal" fill="#ec008c" stroke="#ec008c" stroke-width="1.1" stroke-linejoin="miter" text-anchor="middle">*</text>
<text x="1357.30" y="829.19" font-size="33.9" fill="#ec008c" stroke="#ec008c" stroke-width="0.69" text-anchor="middle">+</text>
<text x="1357.30" y="904.64" font-size="33.9" fill="#ec008c" stroke="#ec008c" stroke-width="0.69" text-anchor="middle">+</text>
<text x="1357.30" y="1063.75" font-size="43.5" font-weight="normal" fill="#ec008c" stroke="#ec008c" stroke-width="1.1" stroke-linejoin="miter" text-anchor="middle">*</text>
<text x="1431.10" y="1063.75" font-size="43.5" font-weight="normal" fill="#ec008c" stroke="#ec008c" stroke-width="1.1" stroke-linejoin="miter" text-anchor="middle">*</text>
<text x="1357.30" y="1441.00" font-size="43.5" font-weight="normal" fill="#ec008c" stroke="#ec008c" stroke-width="1.1" stroke-linejoin="miter" text-anchor="middle">*</text>
<text x="1431.10" y="1441.00" font-size="43.5" font-weight="normal" fill="#ec008c" stroke="#ec008c" stroke-width="1.1" stroke-linejoin="miter" text-anchor="middle">*</text>
<text x="1357.30" y="1508.24" font-size="33.9" fill="#ec008c" stroke="#ec008c" stroke-width="0.69" text-anchor="middle">+</text>
<text x="1431.10" y="1508.24" font-size="33.9" fill="#ec008c" stroke="#ec008c" stroke-width="0.69" text-anchor="middle">+</text>
<text x="1281.20" y="1591.90" font-size="43.5" font-weight="normal" fill="#ec008c" stroke="#ec008c" stroke-width="1.1" stroke-linejoin="miter" text-anchor="middle">*</text>
<text x="1357.30" y="1591.90" font-size="43.5" font-weight="normal" fill="#ec008c" stroke="#ec008c" stroke-width="1.1" stroke-linejoin="miter" text-anchor="middle">*</text>
<text x="1431.10" y="1591.90" font-size="43.5" font-weight="normal" fill="#ec008c" stroke="#ec008c" stroke-width="1.1" stroke-linejoin="miter" text-anchor="middle">*</text>
<rect x="1513.90" y="41.00" width="75.70" height="75.75" fill="#f7f6f7"/>
<rect x="1589.30" y="41.00" width="75.70" height="75.75" fill="#ebf4e8"/>
<rect x="1664.70" y="41.00" width="75.70" height="75.75" fill="#eee3ee"/>
<rect x="1740.10" y="41.00" width="75.70" height="75.75" fill="#f4f6f3"/>
<rect x="1513.90" y="116.45" width="75.70" height="75.75" fill="#f7f6f7"/>
<rect x="1589.30" y="116.45" width="75.70" height="75.75" fill="#a5da9f"/>
<rect x="1664.70" y="116.45" width="75.70" height="75.75" fill="#e8d7e9"/>
<rect x="1740.10" y="116.45" width="75.70" height="75.75" fill="#efe6f0"/>
<rect x="1513.90" y="191.90" width="75.70" height="75.75" fill="#f7f6f7"/>
<rect x="1589.30" y="191.90" width="75.70" height="75.75" fill="#87c886"/>
<rect x="1664.70" y="191.90" width="75.70" height="75.75" fill="#efe6f0"/>
<rect x="1740.10" y="191.90" width="75.70" height="75.75" fill="#e0f2db"/>
<rect x="1513.90" y="267.35" width="75.70" height="75.75" fill="#f7f6f7"/>
<rect x="1589.30" y="267.35" width="75.70" height="75.75" fill="#f0e9f1"/>
<rect x="1664.70" y="267.35" width="75.70" height="75.75" fill="#8f5da0"/>
<rect x="1740.10" y="267.35" width="75.70" height="75.75" fill="#b391c2"/>
<rect x="1513.90" y="342.80" width="75.70" height="75.75" fill="#f7f6f7"/>
<rect x="1589.30" y="342.80" width="75.70" height="75.75" fill="#f0e9f1"/>
<rect x="1664.70" y="342.80" width="75.70" height="75.75" fill="#ecdfed"/>
<rect x="1740.10" y="342.80" width="75.70" height="75.75" fill="#afdfa9"/>
<rect x="1513.90" y="418.25" width="75.70" height="75.75" fill="#f7f6f7"/>
<rect x="1589.30" y="418.25" width="75.70" height="75.75" fill="#f7f6f7"/>
<rect x="1664.70" y="418.25" width="75.70" height="75.75" fill="#ceb5d7"/>
<rect x="1740.10" y="418.25" width="75.70" height="75.75" fill="#ead9ea"/>
<rect x="1513.90" y="493.70" width="75.70" height="75.75" fill="#f7f6f7"/>
<rect x="1589.30" y="493.70" width="75.70" height="75.75" fill="#ecdfed"/>
<rect x="1664.70" y="493.70" width="75.70" height="75.75" fill="#d4bcdb"/>
<rect x="1740.10" y="493.70" width="75.70" height="75.75" fill="#c9add3"/>
<rect x="1513.90" y="569.15" width="75.70" height="75.75" fill="#f7f6f7"/>
<rect x="1589.30" y="569.15" width="75.70" height="75.75" fill="#f0e9f1"/>
<rect x="1664.70" y="569.15" width="75.70" height="75.75" fill="#085424"/>
<rect x="1740.10" y="569.15" width="75.70" height="75.75" fill="#166f32"/>
<rect x="1513.90" y="644.60" width="75.70" height="75.75" fill="#f7f6f7"/>
<rect x="1589.30" y="644.60" width="75.70" height="75.75" fill="#bbe4b5"/>
<rect x="1664.70" y="644.60" width="75.70" height="75.75" fill="#e4d0e6"/>
<rect x="1740.10" y="644.60" width="75.70" height="75.75" fill="#def1d9"/>
<rect x="1513.90" y="720.05" width="75.70" height="75.75" fill="#f7f6f7"/>
<rect x="1589.30" y="720.05" width="75.70" height="75.75" fill="#f2f6f1"/>
<rect x="1664.70" y="720.05" width="75.70" height="75.75" fill="#a37cb3"/>
<rect x="1740.10" y="720.05" width="75.70" height="75.75" fill="#d4bcdb"/>
<rect x="1513.90" y="795.50" width="75.70" height="75.75" fill="#f7f6f7"/>
<rect x="1589.30" y="795.50" width="75.70" height="75.75" fill="#a9dca3"/>
<rect x="1664.70" y="795.50" width="75.70" height="75.75" fill="#f4f6f3"/>
<rect x="1740.10" y="795.50" width="75.70" height="75.75" fill="#c3e7bd"/>
<rect x="1513.90" y="870.95" width="75.70" height="75.75" fill="#f7f6f7"/>
<rect x="1589.30" y="870.95" width="75.70" height="75.75" fill="#99d395"/>
<rect x="1664.70" y="870.95" width="75.70" height="75.75" fill="#e7d4e8"/>
<rect x="1740.10" y="870.95" width="75.70" height="75.75" fill="#def1d9"/>
<rect x="1513.90" y="946.40" width="75.70" height="75.75" fill="#f7f6f7"/>
<rect x="1589.30" y="946.40" width="75.70" height="75.75" fill="#d9f0d3"/>
<rect x="1664.70" y="946.40" width="75.70" height="75.75" fill="#f7f6f7"/>
<rect x="1740.10" y="946.40" width="75.70" height="75.75" fill="#f2ebf2"/>
<rect x="1513.90" y="1021.85" width="75.70" height="75.75" fill="#f7f6f7"/>
<rect x="1589.30" y="1021.85" width="75.70" height="75.75" fill="#f2ebf2"/>
<rect x="1664.70" y="1021.85" width="75.70" height="75.75" fill="#591465"/>
<rect x="1740.10" y="1021.85" width="75.70" height="75.75" fill="#7b3488"/>
<rect x="1513.90" y="1097.30" width="75.70" height="75.75" fill="#f7f6f7"/>
<rect x="1589.30" y="1097.30" width="75.70" height="75.75" fill="#eee3ee"/>
<rect x="1664.70" y="1097.30" width="75.70" height="75.75" fill="#40004b"/>
<rect x="1740.10" y="1097.30" width="75.70" height="75.75" fill="#40004b"/>
<rect x="1513.90" y="1172.75" width="75.70" height="75.75" fill="#f7f6f7"/>
<rect x="1589.30" y="1172.75" width="75.70" height="75.75" fill="#78c07a"/>
<rect x="1664.70" y="1172.75" width="75.70" height="75.75" fill="#edf5eb"/>
<rect x="1740.10" y="1172.75" width="75.70" height="75.75" fill="#9fd79a"/>
<rect x="1513.90" y="1248.20" width="75.70" height="75.75" fill="#f7f6f7"/>
<rect x="1589.30" y="1248.20" width="75.70" height="75.75" fill="#e0f2db"/>
<rect x="1664.70" y="1248.20" width="75.70" height="75.75" fill="#ecdfed"/>
<rect x="1740.10" y="1248.20" width="75.70" height="75.75" fill="#f2ebf2"/>
<rect x="1513.90" y="1323.65" width="75.70" height="75.75" fill="#f7f6f7"/>
<rect x="1589.30" y="1323.65" width="75.70" height="75.75" fill="#87c886"/>
<rect x="1664.70" y="1323.65" width="75.70" height="75.75" fill="#dbf1d6"/>
<rect x="1740.10" y="1323.65" width="75.70" height="75.75" fill="#d1edcb"/>
<rect x="1513.90" y="1399.10" width="75.70" height="75.75" fill="#f7f6f7"/>
<rect x="1589.30" y="1399.10" width="75.70" height="75.75" fill="#f2ebf2"/>
<rect x="1664.70" y="1399.10" width="75.70" height="75.75" fill="#b7e2b1"/>
<rect x="1740.10" y="1399.10" width="75.70" height="75.75" fill="#72bc75"/>
<rect x="1513.90" y="1474.55" width="75.70" height="75.75" fill="#f7f6f7"/>
<rect x="1589.30" y="1474.55" width="75.70" height="75.75" fill="#f7f6f7"/>
<rect x="1664.70" y="1474.55" width="75.70" height="75.75" fill="#f7f6f7"/>
<rect x="1740.10" y="1474.55" width="75.70" height="75.75" fill="#f2ebf2"/>
<rect x="1513.90" y="1550.00" width="75.70" height="75.75" fill="#f7f6f7"/>
<rect x="1589.30" y="1550.00" width="75.70" height="75.75" fill="#bfe5b9"/>
<rect x="1664.70" y="1550.00" width="75.70" height="75.75" fill="#e9f4e7"/>
<rect x="1740.10" y="1550.00" width="75.70" height="75.75" fill="#e0f2db"/>
<path d="M1589.30 41.0 V1625.45 M1664.70 41.0 V1625.45 M1740.10 41.0 V1625.45 M1513.9 116.45 H1815.50 M1513.9 191.90 H1815.50 M1513.9 267.35 H1815.50 M1513.9 342.80 H1815.50 M1513.9 418.25 H1815.50 M1513.9 493.70 H1815.50 M1513.9 569.15 H1815.50 M1513.9 644.60 H1815.50 M1513.9 720.05 H1815.50 M1513.9 795.50 H1815.50 M1513.9 870.95 H1815.50 M1513.9 946.40 H1815.50 M1513.9 1021.85 H1815.50 M1513.9 1097.30 H1815.50 M1513.9 1172.75 H1815.50 M1513.9 1248.20 H1815.50 M1513.9 1323.65 H1815.50 M1513.9 1399.10 H1815.50 M1513.9 1474.55 H1815.50 M1513.9 1550.00 H1815.50" stroke="#000" stroke-width="2.0" fill="none"/>
<rect x="1514.25" y="41.35" width="300.90" height="1583.75" fill="none" stroke="#1a1a1a" stroke-width="1.5"/>
<rect x="1549.85" y="1625.45" width="3.5" height="12.3" fill="#000"/>
<text transform="translate(1558.40,1645.0) rotate(-90)" font-size="31.1" text-anchor="end">30 g/L</text>
<rect x="1625.25" y="1625.45" width="3.5" height="12.3" fill="#000"/>
<text transform="translate(1634.70,1645.0) rotate(-90)" font-size="31.1" text-anchor="end">75 g/L</text>
<rect x="1700.65" y="1625.45" width="3.5" height="12.3" fill="#000"/>
<text transform="translate(1711.00,1645.0) rotate(-90)" font-size="31.1" text-anchor="end">120 g/L</text>
<rect x="1776.05" y="1625.45" width="3.5" height="12.3" fill="#000"/>
<text transform="translate(1787.20,1645.0) rotate(-90)" font-size="31.1" text-anchor="end">150 g/L</text>
<text x="1665" y="22.5" font-size="31.1" text-anchor="middle">SB</text>
<text x="1683.80" y="150.14" font-size="33.9" fill="#ec008c" stroke="#ec008c" stroke-width="0.69" text-anchor="middle">+</text>
<text x="1757.40" y="150.14" font-size="33.9" fill="#ec008c" stroke="#ec008c" stroke-width="0.69" text-anchor="middle">+</text>
<text x="1683.80" y="309.25" font-size="43.5" font-weight="normal" fill="#ec008c" stroke="#ec008c" stroke-width="1.1" stroke-linejoin="miter" text-anchor="middle">*</text>
<text x="1757.40" y="309.25" font-size="43.5" font-weight="normal" fill="#ec008c" stroke="#ec008c" stroke-width="1.1" stroke-linejoin="miter" text-anchor="middle">*</text>
<text x="1683.80" y="451.94" font-size="33.9" fill="#ec008c" stroke="#ec008c" stroke-width="0.69" text-anchor="middle">+</text>
<text x="1683.80" y="527.39" font-size="33.9" fill="#ec008c" stroke="#ec008c" stroke-width="0.69" text-anchor="middle">+</text>
<text x="1757.40" y="535.60" font-size="43.5" font-weight="normal" fill="#ec008c" stroke="#ec008c" stroke-width="1.1" stroke-linejoin="miter" text-anchor="middle">*</text>
<text x="1683.80" y="678.29" font-size="33.9" fill="#ec008c" stroke="#ec008c" stroke-width="0.69" text-anchor="middle">+</text>
<text x="1683.80" y="761.95" font-size="43.5" font-weight="normal" fill="#ec008c" stroke="#ec008c" stroke-width="1.1" stroke-linejoin="miter" text-anchor="middle">*</text>
<text x="1757.40" y="753.74" font-size="33.9" fill="#ec008c" stroke="#ec008c" stroke-width="0.69" text-anchor="middle">+</text>
<text x="1757.40" y="829.19" font-size="33.9" fill="#ec008c" stroke="#ec008c" stroke-width="0.69" text-anchor="middle">+</text>
<text x="1683.80" y="904.64" font-size="33.9" fill="#ec008c" stroke="#ec008c" stroke-width="0.69" text-anchor="middle">+</text>
<text x="1757.40" y="904.64" font-size="33.9" fill="#ec008c" stroke="#ec008c" stroke-width="0.69" text-anchor="middle">+</text>
<text x="1683.80" y="1063.75" font-size="43.5" font-weight="normal" fill="#ec008c" stroke="#ec008c" stroke-width="1.1" stroke-linejoin="miter" text-anchor="middle">*</text>
<text x="1757.40" y="1063.75" font-size="43.5" font-weight="normal" fill="#ec008c" stroke="#ec008c" stroke-width="1.1" stroke-linejoin="miter" text-anchor="middle">*</text>
<text x="1683.80" y="1139.20" font-size="43.5" font-weight="normal" fill="#ec008c" stroke="#ec008c" stroke-width="1.1" stroke-linejoin="miter" text-anchor="middle">*</text>
<text x="1757.40" y="1139.20" font-size="43.5" font-weight="normal" fill="#ec008c" stroke="#ec008c" stroke-width="1.1" stroke-linejoin="miter" text-anchor="middle">*</text>
<text x="1757.40" y="1214.65" font-size="43.5" font-weight="normal" fill="#ec008c" stroke="#ec008c" stroke-width="1.1" stroke-linejoin="miter" text-anchor="middle">*</text>
<text x="1683.80" y="1281.89" font-size="33.9" fill="#ec008c" stroke="#ec008c" stroke-width="0.69" text-anchor="middle">+</text>
<text x="1608.00" y="1365.55" font-size="43.5" font-weight="normal" fill="#ec008c" stroke="#ec008c" stroke-width="1.1" stroke-linejoin="miter" text-anchor="middle">*</text>
<text x="1683.80" y="1357.34" font-size="33.9" fill="#ec008c" stroke="#ec008c" stroke-width="0.69" text-anchor="middle">+</text>
<text x="1683.80" y="1432.79" font-size="33.9" fill="#ec008c" stroke="#ec008c" stroke-width="0.69" text-anchor="middle">+</text>
<text x="1757.40" y="1441.00" font-size="43.5" font-weight="normal" fill="#ec008c" stroke="#ec008c" stroke-width="1.1" stroke-linejoin="miter" text-anchor="middle">*</text>
<text x="1340.3" y="1787.5" font-size="31.1" text-anchor="middle">Solids Loading</text>
<defs><linearGradient id="cb" x1="0" y1="0" x2="0" y2="1"><stop offset="0.0000" stop-color="#40004b"/><stop offset="0.0156" stop-color="#460552"/><stop offset="0.0312" stop-color="#4f0c5a"/><stop offset="0.0469" stop-color="#571263"/><stop offset="0.0625" stop-color="#60196c"/><stop offset="0.0781" stop-color="#681f75"/><stop offset="0.0938" stop-color="#71267e"/><stop offset="0.1094" stop-color="#782e85"/><stop offset="0.1250" stop-color="#7e398c"/><stop offset="0.1406" stop-color="#834492"/><stop offset="0.1562" stop-color="#894f98"/><stop offset="0.1719" stop-color="#8e5a9e"/><stop offset="0.1875" stop-color="#9465a5"/><stop offset="0.2031" stop-color="#9970ab"/><stop offset="0.2188" stop-color="#9f78b1"/><stop offset="0.2344" stop-color="#a681b6"/><stop offset="0.2500" stop-color="#ac89bc"/><stop offset="0.2656" stop-color="#b391c2"/><stop offset="0.2812" stop-color="#b99ac7"/><stop offset="0.2969" stop-color="#c0a2cd"/><stop offset="0.3125" stop-color="#c6aad1"/><stop offset="0.3281" stop-color="#cbb1d5"/><stop offset="0.3438" stop-color="#d1b8d9"/><stop offset="0.3594" stop-color="#d7c0dd"/><stop offset="0.3750" stop-color="#ddc7e1"/><stop offset="0.3906" stop-color="#e3cee5"/><stop offset="0.4062" stop-color="#e8d5e9"/><stop offset="0.4219" stop-color="#eadbeb"/><stop offset="0.4375" stop-color="#ede0ed"/><stop offset="0.4531" stop-color="#efe6f0"/><stop offset="0.4688" stop-color="#f2ebf2"/><stop offset="0.4844" stop-color="#f4f1f4"/><stop offset="0.5000" stop-color="#f7f6f7"/><stop offset="0.5156" stop-color="#f3f6f2"/><stop offset="0.5312" stop-color="#eef5ec"/><stop offset="0.5469" stop-color="#e9f4e7"/><stop offset="0.5625" stop-color="#e5f3e1"/><stop offset="0.5781" stop-color="#e0f2db"/><stop offset="0.5938" stop-color="#dbf1d6"/><stop offset="0.6094" stop-color="#d5eecf"/><stop offset="0.6250" stop-color="#cdebc7"/><stop offset="0.6406" stop-color="#c5e8bf"/><stop offset="0.6562" stop-color="#bde4b7"/><stop offset="0.6719" stop-color="#b5e1af"/><stop offset="0.6875" stop-color="#addea7"/><stop offset="0.7031" stop-color="#a5da9f"/><stop offset="0.7188" stop-color="#99d395"/><stop offset="0.7344" stop-color="#8dcc8b"/><stop offset="0.7500" stop-color="#81c581"/><stop offset="0.7656" stop-color="#75be77"/><stop offset="0.7812" stop-color="#69b76d"/><stop offset="0.7969" stop-color="#5db063"/><stop offset="0.8125" stop-color="#53a85c"/><stop offset="0.8281" stop-color="#499f55"/><stop offset="0.8438" stop-color="#3f974f"/><stop offset="0.8594" stop-color="#358e48"/><stop offset="0.8750" stop-color="#2b8642"/><stop offset="0.8906" stop-color="#217d3b"/><stop offset="0.9062" stop-color="#197535"/><stop offset="0.9219" stop-color="#156d31"/><stop offset="0.9375" stop-color="#11652d"/><stop offset="0.9531" stop-color="#0d5c28"/><stop offset="0.9688" stop-color="#085424"/><stop offset="0.9844" stop-color="#044c1f"/><stop offset="1.0000" stop-color="#00441b"/></linearGradient></defs>
<rect x="1882" y="188.8" width="27.8" height="549.2" fill="url(#cb)"/>
<rect x="1909.8" y="187.10" width="14.2" height="3.8" fill="#000"/>
<text x="1927.2" y="197.00" font-size="20.8">3</text>
<rect x="1909.8" y="278.57" width="14.2" height="3.8" fill="#000"/>
<text x="1927.2" y="288.47" font-size="20.8">2</text>
<rect x="1909.8" y="370.04" width="14.2" height="3.8" fill="#000"/>
<text x="1927.2" y="379.94" font-size="20.8">1</text>
<rect x="1909.8" y="461.51" width="14.2" height="3.8" fill="#000"/>
<text x="1927.2" y="471.41" font-size="20.8">0</text>
<rect x="1909.8" y="552.98" width="14.2" height="3.8" fill="#000"/>
<text x="1927.2" y="562.88" font-size="20.8">-1</text>
<rect x="1909.8" y="644.45" width="14.2" height="3.8" fill="#000"/>
<text x="1927.2" y="654.35" font-size="20.8">-2</text>
<rect x="1909.8" y="735.92" width="14.2" height="3.8" fill="#000"/>
<text x="1927.2" y="745.82" font-size="20.8">-3</text>
<text transform="translate(1861.3,456.5) rotate(-90)" font-size="31.25" text-anchor="middle">log2 fold change vs. 30 g/L</text>
<text x="1870" y="848.4" font-size="31.1">adj. p-value</text>
<text x="1870" y="885.3" font-size="31.1">≤ 0.05</text>
<text x="1870" y="948.3" font-size="31.1">adj. p-value</text>
<text x="1870" y="985.4" font-size="31.1">≤ 0.05 &amp;</text>
<text x="1870" y="1023.2" font-size="31.1">abs. fold</text>
<text x="1870" y="1061.0" font-size="31.1">change ≥ 2×</text>
<text x="1851.4" y="862.2" font-size="43" fill="#ec008c" stroke="#ec008c" stroke-width="0.15" text-anchor="middle">+</text>
<text x="1852.6" y="969.9" font-size="51.7" font-weight="normal" fill="#ec008c" stroke="#ec008c" stroke-width="1.1" stroke-linejoin="miter" text-anchor="middle">*</text>
</svg>
</body></html>
